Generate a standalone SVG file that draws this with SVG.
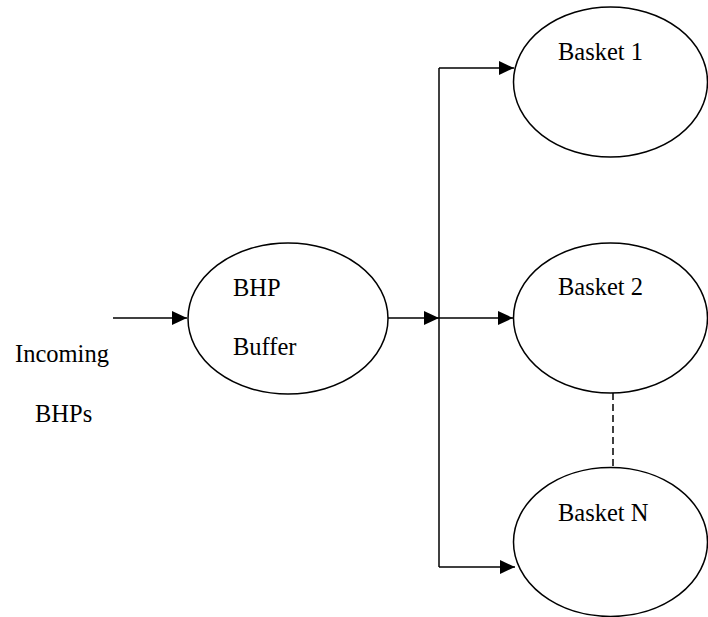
<svg xmlns="http://www.w3.org/2000/svg" width="708" height="617" viewBox="0 0 708 617">
  <style>
    .shape { fill: #ffffff; stroke: #000000; stroke-width: 1.5; }
    .conn { fill: none; stroke: #000000; stroke-width: 1.5; }
    .dash { fill: none; stroke: #000000; stroke-width: 1.5; stroke-dasharray: 7 4; }
    .lbl { font-family: "Liberation Serif", "Times New Roman", serif; font-size: 24.5px; fill: #000000; }
  </style>
  <defs>
    <marker id="arr" markerUnits="userSpaceOnUse" markerWidth="16" markerHeight="14" refX="15" refY="7" orient="auto">
      <path d="M0,0 L15,7 L0,14 Z" fill="#000000"/>
    </marker>
  </defs>
  <rect width="708" height="617" fill="#ffffff"/>

  <g id="connectors">
    <line class="conn" x1="113" y1="318" x2="187" y2="318" marker-end="url(#arr)"/>
    <line class="conn" x1="388" y1="318" x2="439" y2="318" marker-end="url(#arr)"/>
    <line class="conn" x1="439" y1="68" x2="439" y2="567"/>
    <line class="conn" x1="439" y1="68" x2="514" y2="68" marker-end="url(#arr)"/>
    <line class="conn" x1="439" y1="318" x2="513" y2="318" marker-end="url(#arr)"/>
    <line class="conn" x1="439" y1="567" x2="515" y2="567" marker-end="url(#arr)"/>
    <line class="dash" x1="613" y1="393" x2="613" y2="467"/>
  </g>

  <g id="incoming">
    <text class="lbl" x="15" y="362">Incoming</text>
    <text class="lbl" x="35" y="422">BHPs</text>
  </g>

  <g id="buffer">
    <ellipse class="shape" cx="288" cy="318.5" rx="100" ry="75.5"/>
    <text class="lbl" x="233" y="296">BHP</text>
    <text class="lbl" x="233" y="355">Buffer</text>
  </g>

  <g id="basket1">
    <ellipse class="shape" cx="610.5" cy="82" rx="97" ry="75"/>
    <text class="lbl" x="558" y="60">Basket 1</text>
  </g>

  <g id="basket2">
    <ellipse class="shape" cx="610.5" cy="318" rx="97" ry="75"/>
    <text class="lbl" x="558" y="295">Basket 2</text>
  </g>

  <g id="basketN">
    <ellipse class="shape" cx="610.5" cy="542" rx="97" ry="74.5"/>
    <text class="lbl" x="558" y="521">Basket N</text>
  </g>
</svg>
